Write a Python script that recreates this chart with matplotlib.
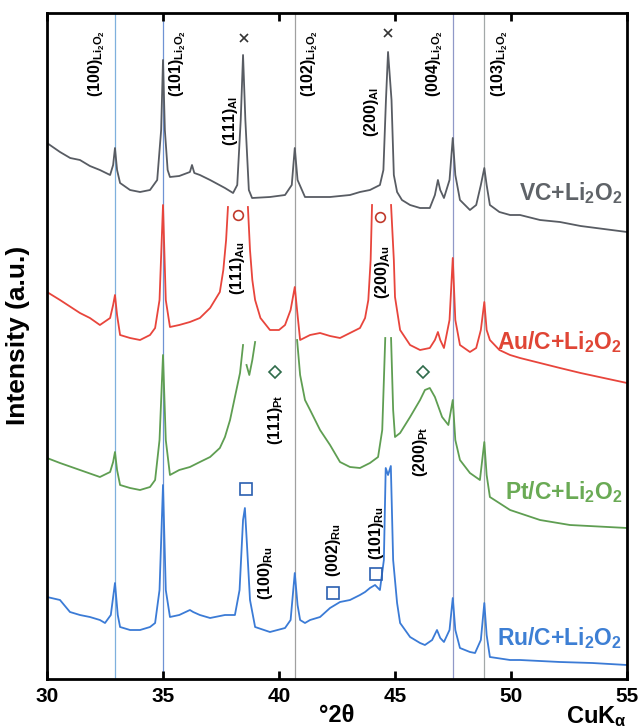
import numpy as np
import matplotlib
matplotlib.use('Agg')
import matplotlib.pyplot as plt

plt.rcParams['font.family'] = ['Liberation Sans', 'DejaVu Sans']
plt.rcParams['font.weight'] = 'bold'
plt.rcParams['mathtext.fontset'] = 'custom'
plt.rcParams['mathtext.rm'] = 'Liberation Sans:bold'
plt.rcParams['mathtext.it'] = 'Liberation Sans:bold'
plt.rcParams['mathtext.bf'] = 'Liberation Sans:bold'

nan = np.nan

# traces (2theta, intensity a.u.)
vc_tt = [30.0, 30.56, 31.0, 31.42, 31.85, 32.28, 32.72, 32.85, 32.93, 33.02, 33.15, 33.58, 34.01, 34.44, 34.75,
         34.92, 35.0, 35.08, 35.2, 35.3, 35.7, 36.16, 36.25, 36.35, 36.59, 37.03, 37.67, 38.02, 38.2, 38.35,
         38.45, 38.55, 38.7, 38.84, 39.61, 40.26, 40.55, 40.68, 40.8, 41.12, 42.2, 42.63, 43.06, 43.49, 43.92,
         44.35, 44.5, 44.61, 44.7, 44.85, 44.95, 45.09, 45.3, 45.65, 46.08, 46.5, 46.72, 46.85, 46.95, 47.11,
         47.35, 47.49, 47.6, 47.8, 48.23, 48.5, 48.7, 48.85, 48.95, 49.09, 49.5, 49.96, 50.39, 51.25, 52.11,
         53.0, 54.0, 55.0]
vc_int = [536, 527, 521, 519, 513, 509, 504, 514, 531, 509, 496, 489, 487, 489, 499,
          549, 619, 549, 509, 502, 503, 507, 514, 506, 504, 499, 491, 486, 494, 559,
          624, 559, 489, 481, 482, 484, 494, 531, 499, 482, 482, 483, 484, 487, 489,
          494, 509, 579, 627, 579, 504, 487, 479, 474, 471, 471, 484, 499, 489, 481,
          499, 541, 504, 479, 469, 474, 494, 511, 494, 474, 467, 464, 464, 459, 457,
          453, 450, 447]

au_tt = [30.0, 30.56, 31.42, 31.85, 32.28, 32.72, 32.85, 32.93, 33.02, 33.15, 33.58, 34.01, 34.44, 34.66,
         34.85, 35.0, 35.12, 35.3, 35.7, 36.16, 36.59, 37.03, 37.45, 37.6, 37.72, 37.8, nan,
         38.66, 38.75, 38.85, 38.97, 39.2, 39.61, 40.0, 40.26, 40.5, 40.68, 40.8, 40.91, 41.34, 41.77, 42.2,
         42.63, 43.06, 43.49, 43.71, 43.85, 43.95, 44.01, nan,
         44.83, 44.95, 45.0, 45.22, 45.65, 46.08, 46.5, 46.72, 46.85, 46.95, 47.11, 47.35, 47.49, 47.6, 47.8,
         48.23, 48.5, 48.7, 48.85, 48.95, 49.09, 49.5, 49.96, 50.39, 51.25, 52.11, 53.0, 54.0, 55.0]
au_int = [387, 379, 366, 361, 354, 361, 374, 384, 364, 344, 341, 339, 344, 351,
          379, 474, 379, 352, 354, 357, 361, 371, 387, 409, 439, 472, nan,
          472, 429, 399, 379, 361, 349, 349, 354, 369, 392, 364, 339, 344, 346, 343,
          341, 346, 351, 361, 379, 419, 474, nan,
          474, 419, 382, 349, 334, 329, 331, 339, 347, 339, 331, 359, 421, 359, 334,
          327, 331, 349, 377, 349, 339, 329, 324, 321, 316, 311, 306, 301, 296]

pt_tt = [30.0, 30.56, 31.42, 32.28, 32.72, 32.85, 32.93, 33.02, 33.15, 33.58, 34.01, 34.44, 34.66, 34.85,
         35.0, 35.12, 35.3, 35.7, 36.16, 36.59, 37.03, 37.45, 37.67, 37.89, 38.1, 38.32, 38.45, nan,
         38.6, 38.72, 38.85, 38.97, nan,
         40.78, 40.91, 41.12, 41.34, 41.77, 42.2, 42.63, 43.06, 43.49, 43.92, 44.27, 44.45, 44.58, nan,
         44.83, 44.92, 45.0, 45.22, 45.65, 46.08, 46.29, 46.5, 46.72, 47.03, 47.3, 47.49, 47.6, 47.8, 48.23,
         48.66, 48.85, 48.95, 49.09, 49.96, 51.25, 52.54, 55.0]
pt_int = [221, 216, 209, 202, 207, 217, 227, 209, 194, 191, 189, 192, 199, 239,
          324, 239, 204, 209, 212, 217, 222, 231, 242, 259, 282, 306, 334, nan,
          314, 304, 319, 337, nan,
          339, 304, 279, 269, 249, 234, 217, 212, 211, 216, 222, 249, 341, nan,
          341, 269, 242, 246, 262, 279, 289, 291, 282, 262, 254, 279, 239, 219, 206,
          199, 237, 204, 182, 169, 159, 154, 151]

ru_tt = [30.0, 30.56, 30.99, 31.42, 31.85, 32.28, 32.5, 32.75, 32.93, 33.05, 33.15, 33.58, 34.01, 34.44,
         34.66, 34.85, 35.0, 35.12, 35.3, 35.7, 36.16, 36.3, 36.59, 37.03, 37.67, 38.1, 38.3, 38.45, 38.53,
         38.62, 38.75, 38.97, 39.61, 40.26, 40.5, 40.68, 40.8, 40.91, 41.12, 41.34, 41.77, 42.2, 42.63, 43.06,
         43.49, 43.71, 43.92, 44.14, 44.35, 44.52, 44.6, 44.7, 44.82, 44.92, 45.09, 45.22, 45.65, 46.08,
         46.29, 46.6, 46.81, 46.95, 47.11, 47.35, 47.49, 47.6, 47.8, 48.23, 48.45, 48.7, 48.85, 48.95, 49.09,
         49.96, 50.39, 52.11, 53.5, 55.0]
ru_int = [82, 79, 67, 64, 62, 59, 56, 64, 96, 64, 52, 49, 49, 52,
          56, 89, 194, 89, 62, 64, 69, 67, 64, 61, 64, 64, 89, 159, 171,
          134, 79, 52, 47, 51, 59, 106, 74, 59, 56, 59, 62, 71, 77, 79,
          84, 87, 91, 94, 89, 119, 211, 204, 213, 119, 76, 56, 42, 36,
          34, 39, 49, 41, 37, 49, 81, 49, 31, 27, 26, 39, 76, 44, 22,
          19, 19, 17, 16, 14]

ref_lines = [32.93, 35.0, 40.68, 47.49, 48.85]
ref_colors = ['#7fb0dd', '#6f93d4', '#a0a0a0', '#9099c8', '#a3a8a8']

fig = plt.figure(figsize=(6.39, 7.28), dpi=100)
ax = fig.add_axes([47 / 639, 49 / 728, 580 / 639, 666 / 728])

for xv, c in zip(ref_lines, ref_colors):
    ax.axvline(xv, color=c, lw=0.9, zorder=1)

ax.plot(vc_tt, vc_int, color='#585c63', lw=1.3, zorder=2)
ax.plot(au_tt, au_int, color='#e8453c', lw=1.3, zorder=2)
ax.plot(pt_tt, pt_int, color='#5f9e52', lw=1.3, zorder=2)
ax.plot(ru_tt, ru_int, color='#3b7bd6', lw=1.3, zorder=2)

ax.set_xlim(30, 55)
ax.set_ylim(0, 666)
ax.set_xticks([30, 35, 40, 45, 50, 55])
ax.set_yticks([])
ax.tick_params(axis='x', direction='in', length=6, width=2, top=True, labelsize=15, pad=6)
for lab in ax.get_xticklabels():
    lab.set_fontweight('bold')
for sp in ax.spines.values():
    sp.set_linewidth(2)

# peak labels
li = r'$_{Li_2O_2}$'
rot_labels = [
    (32.16, 615, '(100)' + li),
    (35.65, 615, '(101)' + li),
    (37.89, 558, '(111)$_{Al}$'),
    (41.34, 615, '(102)' + li),
    (44.0, 567, '(200)$_{Al}$'),
    (46.72, 615, '(004)' + li),
    (49.53, 615, '(103)' + li),
    (38.23, 411, '(111)$_{Au}$'),
    (44.44, 407, '(200)$_{Au}$'),
    (39.83, 259, '(111)$_{Pt}$'),
    (46.08, 227, '(200)$_{Pt}$'),
    (39.40, 106, '(100)$_{Ru}$'),
    (42.37, 129, '(002)$_{Ru}$'),
    (44.22, 146, '(101)$_{Ru}$'),
]
for xv, yv, s in rot_labels:
    ax.text(xv, yv, s, rotation=90, ha='center', va='center', fontsize=11.5,
            fontweight='bold', color='black', zorder=4)

# markers
ax.plot([38.49, 44.70], [641, 646], 'x', color='#333333', ms=6, mew=1.2, zorder=4)
ax.plot([38.23, 44.35], [464, 462], 'o', mfc='none', mec='#c0392b', ms=7, mew=1.2, zorder=4)
ax.plot([39.83, 46.21], [307, 307], 'D', mfc='none', mec='#2e6b4a', ms=6, mew=1.2, zorder=4)
ax.plot([38.58, 42.33, 44.18], [190, 86, 105], 's', mfc='none', mec='#2a5fb0', ms=9, mew=1.2, zorder=4)

# sample names
names = [
    (486, r'VC+Li$_2$O$_2$', '#5f6368'),
    (337, r'Au/C+Li$_2$O$_2$', '#e04535'),
    (187, r'Pt/C+Li$_2$O$_2$', '#6aaa55'),
    (41, r'Ru/C+Li$_2$O$_2$', '#3d7fd4'),
]
for yv, s, c in names:
    ax.text(54.8, yv, s, ha='right', va='center', fontsize=16.5, color=c, zorder=4)

fig.text(18 / 639, 393 / 728, 'Intensity (a.u.)', rotation=90, ha='center', va='center',
         fontsize=19, fontweight='bold')
fig.text(337 / 639, 13 / 728, '°2θ', ha='center', va='center', fontsize=17, fontweight='bold')
fig.text(596 / 639, 11 / 728, r'CuK$_{\alpha}$', ha='center', va='center', fontsize=17, fontweight='bold')

fig.savefig('out.png', dpi=100)
